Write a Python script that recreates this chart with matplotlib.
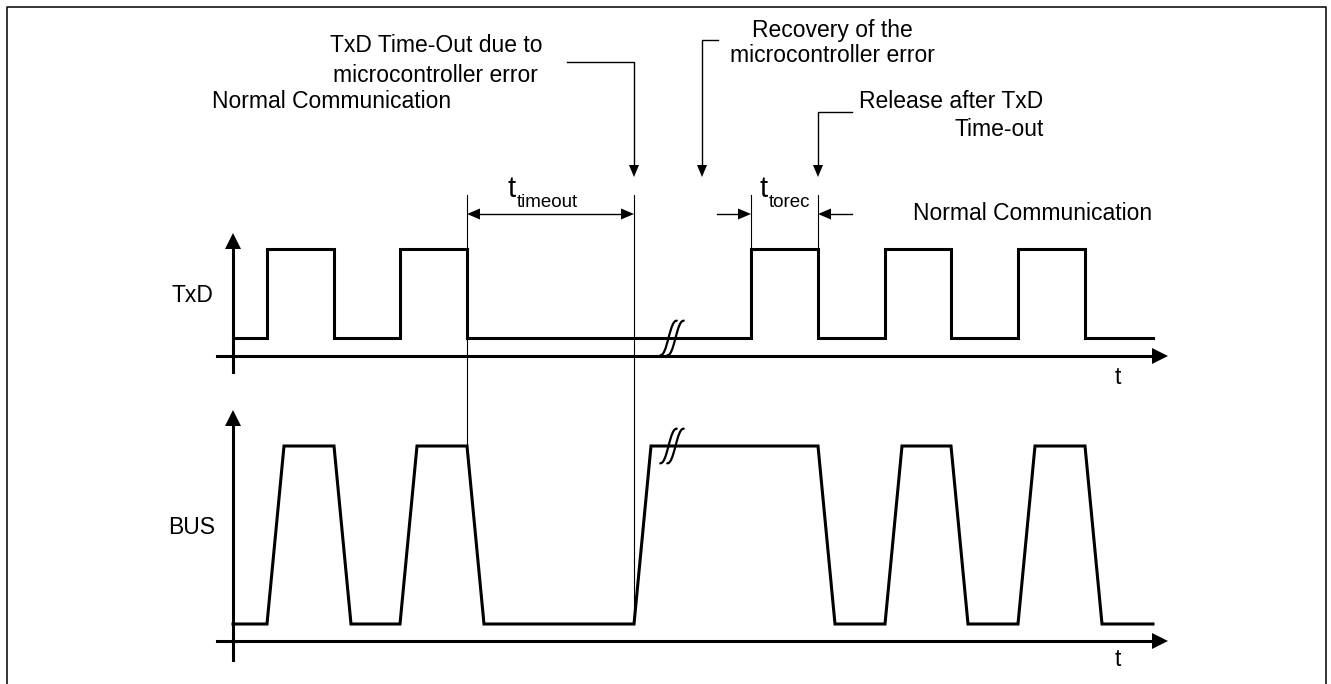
import matplotlib.pyplot as plt
from matplotlib.path import Path
from matplotlib.patches import PathPatch

W, H = 1331, 684

# time axis positions (pixels) of the signal edges
t_start, t_end = 233, 1153
txd_edges = [267, 334, 400, 467, 751, 818, 885, 951, 1018, 1085]
bus_edges = [267, 334, 400, 467, 634, 818, 885, 951, 1018, 1085]
bus_slew = 17

# signal levels
txd_low, txd_high, txd_axis = 338, 249, 356
bus_low, bus_high, bus_axis = 624, 446, 641
axis_x, axis_left, axis_tip = 233, 217, 1168

# annotation anchors
t_timeout_from, t_timeout_to = 467, 634
t_torec_from, t_torec_to = 751, 818
recovery_x = 702
break_x = 672

labels = [
    ("TxD Time-Out due to", 543, 46, "right"),
    ("microcontroller error", 538, 76, "right"),
    ("Recovery of the", 832, 30, "center"),
    ("microcontroller error", 832, 55, "center"),
    ("Normal Communication", 212, 101, "left"),
    ("Release after TxD", 859, 101, "left"),
    ("Time-out", 1044, 129, "right"),
    ("Normal Communication", 913, 213, "left"),
    ("TxD", 213, 295, "right"),
    ("BUS", 215, 527, "right"),
    ("t", 1118, 377, "center"),
    ("t", 1118, 660, "center"),
]

FONT = ["Liberation Sans", "DejaVu Sans"]
FS = 16.5


def waveform(edges, lo, hi, slew=0):
    xs, ys = [t_start], [lo]
    level = lo
    for e in edges:
        new = hi if level == lo else lo
        xs += [e, e + slew]
        ys += [level, new]
        level = new
    xs.append(t_end)
    ys.append(level)
    return xs, ys


def head(ax, x, y, direction, length, hw):
    # filled triangular arrow head, tip at (x, y)
    dx, dy = {"right": (1, 0), "left": (-1, 0), "up": (0, -1), "down": (0, 1)}[direction]
    bx, by = x - dx * length, y - dy * length
    px, py = -dy * hw, dx * hw
    ax.fill([x, bx + px, bx - px], [y, by + py, by - py], color="black", lw=0)


def break_mark(ax, cx, cy):
    for off in (-3.5, 3.5):
        x0 = cx + off
        verts = [(x0 - 9, cy + 17), (x0 - 1, cy + 21), (x0 + 1, cy - 21), (x0 + 9, cy - 17)]
        path = Path(verts, [Path.MOVETO, Path.CURVE4, Path.CURVE4, Path.CURVE4])
        ax.add_patch(PathPatch(path, fill=False, lw=1.6, color="black"))


fig = plt.figure(figsize=(W / 100, H / 100), dpi=100)
ax = fig.add_axes([0, 0, 1, 1])
ax.set_xlim(0, W)
ax.set_ylim(H, 0)
ax.axis("off")

# frame (bottom edge is off the picture)
ax.plot([7, 7, 1326, 1326], [H, 7, 7, H], color="black", lw=1.1)

# axes of both traces
for y_axis, y_top, y_bot in [(txd_axis, 233, 372), (bus_axis, 410, 660)]:
    ax.plot([axis_left, axis_tip - 14], [y_axis, y_axis], color="black", lw=2.2)
    head(ax, axis_tip, y_axis, "right", 16, 8)
    ax.plot([axis_x, axis_x], [y_bot, y_top + 14], color="black", lw=2.2)
    head(ax, axis_x, y_top, "up", 16, 8)

x, y = waveform(txd_edges, txd_low, txd_high)
ax.plot(x, y, color="black", lw=2.2, solid_joinstyle="miter")
x, y = waveform(bus_edges, bus_low, bus_high, bus_slew)
ax.plot(x, y, color="black", lw=2.2, solid_joinstyle="miter")

break_mark(ax, break_x, txd_low)
break_mark(ax, break_x, bus_high)

# thin extension lines
ax.plot([t_timeout_from] * 2, [195, bus_high], color="black", lw=0.8)
ax.plot([t_timeout_to] * 2, [195, bus_low], color="black", lw=0.8)
ax.plot([t_torec_from] * 2, [195, txd_high], color="black", lw=0.8)
ax.plot([t_torec_to] * 2, [195, txd_high], color="black", lw=0.8)

# dimension arrows
y_dim = 214
ax.plot([t_timeout_from + 8, t_timeout_to - 8], [y_dim, y_dim], color="black", lw=1)
head(ax, t_timeout_from, y_dim, "left", 13, 5.5)
head(ax, t_timeout_to, y_dim, "right", 13, 5.5)
ax.plot([t_torec_from - 34, t_torec_from - 8], [y_dim, y_dim], color="black", lw=1)
head(ax, t_torec_from, y_dim, "right", 13, 5.5)
ax.plot([t_torec_to + 8, t_torec_to + 34], [y_dim, y_dim], color="black", lw=1)
head(ax, t_torec_to, y_dim, "left", 13, 5.5)

ax.text(507, 197, "t", fontsize=21, family=FONT, ha="left", va="baseline")
ax.text(517, 207, "timeout", fontsize=13.5, family=FONT, ha="left", va="baseline")
ax.text(760, 197, "t", fontsize=21, family=FONT, ha="left", va="baseline")
ax.text(769, 207, "torec", fontsize=13.5, family=FONT, ha="left", va="baseline")

# callouts
y_tip = 177
for pts, xt in [([(567, 62), (t_timeout_to, 62)], t_timeout_to),
                ([(718, 40), (recovery_x, 40)], recovery_x),
                ([(852, 112), (t_torec_to, 112)], t_torec_to)]:
    (xa, ya), (xb, yb) = pts
    ax.plot([xa, xb, xb], [ya, yb, y_tip - 10], color="black", lw=1)
    head(ax, xt, y_tip, "down", 12, 5)

for s, lx, ly, ha in labels:
    ax.text(lx, ly, s, fontsize=FS, family=FONT, ha=ha, va="center")

fig.savefig("out.png", dpi=100)
